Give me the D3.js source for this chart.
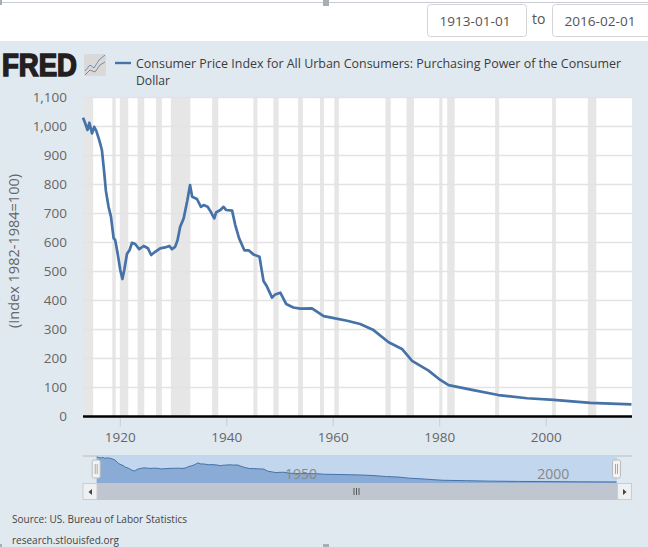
<!DOCTYPE html>
<html>
<head>
<meta charset="utf-8">
<script src="https://cdn.jsdelivr.net/npm/d3@7"></script>
<style>
    html, body { margin: 0; padding: 0; background: #fff; overflow: hidden; }
    text { font-family: "Open Sans", "Noto Sans", sans-serif; }
    .y-axis text, .x-axis text { fill: #666; font-size: 13.5px; }
</style>
</head>
<body>
<div id="chart"></div>
<script>
// purchasing power of the dollar
const years = [1913.1, 1913.5, 1913.95, 1914.3, 1914.8, 1915.2, 1915.6, 1916.15, 1916.65, 1917.1, 1917.4, 1917.9, 1918.35, 1918.85, 1919.15, 1919.6,
    1920.1, 1920.5, 1920.85, 1921.35, 1921.85, 1922.3, 1922.9, 1923.65, 1924.5, 1925.3, 1925.9, 1926.65, 1927.6, 1928.5, 1929.3, 1929.8,
    1930.4, 1930.85, 1931.35, 1932, 1932.7, 1933.2, 1933.6, 1934.5, 1935.25, 1935.75, 1936.5, 1937.1, 1937.75, 1938.1, 1938.9, 1939.5,
    1940, 1941.1, 1941.7, 1942.4, 1943.4, 1944.2, 1945.1, 1946.25, 1946.5, 1947, 1947.65, 1948.6, 1949.2, 1950.15, 1951.25, 1952.6,
    1953.9, 1956.1, 1958.3, 1959.5, 1962.7, 1965.15, 1967.65, 1970.5, 1973, 1974.9, 1978, 1980.2, 1981.75, 1986.4, 1991.1, 1996.5,
    2001.5, 2008.4, 2016.1];
const power = [1030, 1012, 988, 1013, 976, 999, 985, 953, 919, 838, 778, 723, 689, 615, 608, 563,
    505, 474, 505, 560, 574, 599, 595, 577, 588, 580, 557, 568, 580, 583, 588, 577,
    585, 608, 654, 683, 746, 798, 758, 750, 723, 729, 723, 706, 683, 704, 712, 723,
    712, 710, 660, 615, 573, 573, 559, 551, 522, 467, 448, 410, 421, 427, 388, 376,
    372, 373, 346, 342, 330, 319, 298, 256, 233, 192, 158, 126, 108, 91, 74, 63,
    57, 47, 42];

const recessionStart = [1913.0, 1918.6, 1920.0, 1923.35, 1926.8, 1929.6, 1937.35, 1945.1, 1948.85, 1953.5, 1957.6, 1960.3, 1969.9, 1973.85, 1980.0, 1981.5, 1990.5, 2001.2, 2007.9];
const recessionEnd = [1915.0, 1919.25, 1921.6, 1924.6, 1927.9, 1933.25, 1938.5, 1945.85, 1949.85, 1954.4, 1958.35, 1961.15, 1970.9, 1975.25, 1980.6, 1982.9, 1991.25, 2001.9, 2009.5];

const yTicks = [0, 100, 200, 300, 400, 500, 600, 700, 800, 900, 1000, 1100];
const xTicks = [1920, 1940, 1960, 1980, 2000];
const navTicks = [1950, 2000];

const titleLines = ["Consumer Price Index for All Urban Consumers: Purchasing Power of the Consumer", "Dollar"];
const dateFrom = "1913-01-01";
const dateTo = "2016-02-01";

const width = 648, height = 547;
const lineColor = "#4572a7";

const svg = d3.select("#chart").append("svg")
    .attr("width", width)
    .attr("height", height)
    .style("display", "block");

// page background and the white strip with the date inputs
svg.append("rect").attr("width", width).attr("height", height).attr("fill", "#e1e9f0");
svg.append("rect").attr("width", width).attr("height", 41).attr("fill", "#fff");

// resize handle bits from the screenshot
svg.append("line").attr("x1", 0).attr("x2", width).attr("y1", 2.5).attr("y2", 2.5).attr("stroke", "#c8ccd4");
svg.append("rect").attr("x", 323).attr("y", 0).attr("width", 6).attr("height", 6).attr("fill", "#a9adb4");
svg.append("rect").attr("x", 0).attr("y", 0).attr("width", 2).attr("height", 5).attr("fill", "#a9adb4");
svg.append("rect").attr("x", 323).attr("y", 544).attr("width", 6).attr("height", 3).attr("fill", "#a9adb4");
svg.append("rect").attr("x", 0).attr("y", 544).attr("width", 2).attr("height", 3).attr("fill", "#a9adb4");

function dateBox(x, w, label) {
    svg.append("rect")
        .attr("x", x).attr("y", 4.5).attr("width", w).attr("height", 32).attr("rx", 3)
        .attr("fill", "#fff").attr("stroke", "#d4d4d4");
    svg.append("text")
        .attr("x", x + 12).attr("y", 26)
        .attr("font-size", 13).attr("fill", "#555")
        .attr("textLength", 71).attr("lengthAdjust", "spacingAndGlyphs")
        .text(label);
}
dateBox(427.5, 99, dateFrom);
dateBox(552.5, 110, dateTo);
svg.append("text").attr("x", 532).attr("y", 24).attr("font-size", 14).attr("fill", "#555").text("to");

// logo
svg.append("text")
    .attr("x", 2).attr("y", 75.5)
    .attr("font-size", 31).attr("font-weight", 700).attr("fill", "#231f20")
    .style("font-family", "'Liberation Sans', Arial, sans-serif")
    .attr("stroke", "#231f20").attr("stroke-width", 1.6)
    .attr("textLength", 75).attr("lengthAdjust", "spacingAndGlyphs")
    .text("FRED");
svg.append("rect").attr("x", 84).attr("y", 54).attr("width", 22).attr("height", 22).attr("rx", 2).attr("fill", "#d9d9d9");
svg.append("path").attr("d", "M85 71 L90 65 L94 68 L99 60 L105 55").attr("fill", "none").attr("stroke", "#6d8fbd").attr("stroke-width", 1);
svg.append("path").attr("d", "M85 75 L90 70 L95 72 L100 65 L105 62").attr("fill", "none").attr("stroke", "#888").attr("stroke-width", 1);

// legend
svg.append("line").attr("x1", 115).attr("x2", 131).attr("y1", 63).attr("y2", 63).attr("stroke", lineColor).attr("stroke-width", 2.4);
svg.selectAll(".title-line")
    .data(titleLines)
    .enter()
    .append("text")
    .attr("class", "title-line")
    .attr("x", 136)
    .attr("y", (d, i) => 67.5 + i * 17)
    .attr("font-size", 12.5).attr("fill", "#3c3c3c")
    .attr("textLength", (d, i) => i === 0 ? 485 : 34)
    .attr("lengthAdjust", "spacingAndGlyphs")
    .text(d => d);

// main plot
const margin = { top: 97.5, right: 16, bottom: 130.5, left: 83 };
const plotW = width - margin.left - margin.right;
const plotH = height - margin.top - margin.bottom;

const x = d3.scaleLinear().domain([1913.1, 2016.2]).range([0, plotW]);
const y = d3.scaleLinear().domain([0, 1100]).range([plotH, 0]);

const g = svg.append("g").attr("transform", "translate(" + margin.left + "," + margin.top + ")");
g.append("rect").attr("width", plotW).attr("height", plotH).attr("fill", "#fff");

g.append("clipPath").attr("id", "plot-clip")
    .append("rect").attr("width", plotW).attr("height", plotH);

g.selectAll(".recession")
    .data(recessionStart)
    .enter()
    .append("rect")
    .attr("class", "recession")
    .attr("clip-path", "url(#plot-clip)")
    .attr("x", d => x(d))
    .attr("y", 0)
    .attr("width", (d, i) => x(recessionEnd[i]) - x(d))
    .attr("height", plotH)
    .attr("fill", "#e6e6e6");

const yAxis = d3.axisLeft(y).tickValues(yTicks).tickFormat(d3.format(",")).tickSize(0).tickPadding(16);
const yG = g.append("g").attr("class", "y-axis").call(yAxis);
yG.select(".domain").remove();

g.selectAll(".grid")
    .data(yTicks.filter(d => d > 0))
    .enter()
    .append("line")
    .attr("class", "grid")
    .attr("x1", 0).attr("x2", plotW)
    .attr("y1", d => y(d)).attr("y2", d => y(d))
    .attr("stroke", "#e3e3e3").attr("stroke-width", 1.5);

const xAxis = d3.axisBottom(x).tickValues(xTicks).tickFormat(d3.format("d")).tickSize(10).tickPadding(6);
const xG = g.append("g").attr("class", "x-axis").attr("transform", "translate(0," + plotH + ")").call(xAxis);
xG.select(".domain").remove();
xG.selectAll("line").attr("stroke", "#c0d0e0");

g.append("line").attr("x1", 0).attr("x2", plotW).attr("y1", plotH).attr("y2", plotH).attr("stroke", "#000").attr("stroke-width", 2.5);

const line = d3.line().x((d, i) => x(years[i])).y(d => y(d));
g.append("path")
    .datum(power)
    .attr("d", line)
    .attr("fill", "none")
    .attr("stroke", lineColor)
    .attr("stroke-width", 2.7)
    .attr("stroke-linejoin", "round");

svg.append("text")
    .attr("transform", "translate(19,251) rotate(-90)")
    .attr("text-anchor", "middle")
    .attr("font-size", 14.5).attr("fill", "#666")
    .text("(Index 1982-1984=100)");

// navigator
const navTop = 456, navBottom = 483;
const navX = d3.scaleLinear().domain([1913.1, 2016.2]).range([96.7, 617]);
const navY = d3.scaleLinear().domain([0, 1030]).range([navBottom, navTop + 1]);

svg.append("line").attr("x1", 83).attr("x2", 632).attr("y1", navTop).attr("y2", navTop).attr("stroke", "#b8bcc2");
svg.append("rect")
    .attr("x", navX.range()[0]).attr("y", navTop)
    .attr("width", navX.range()[1] - navX.range()[0]).attr("height", navBottom - navTop)
    .attr("fill", "#c2d6ee");

const navArea = d3.area().x((d, i) => navX(years[i])).y0(navBottom).y1(d => navY(d));
const navLine = d3.line().x((d, i) => navX(years[i])).y(d => navY(d));
svg.append("path").datum(power).attr("d", navArea).attr("fill", "#8aabd6");
svg.append("path").datum(power).attr("d", navLine).attr("fill", "none").attr("stroke", lineColor).attr("stroke-width", 1);

svg.selectAll(".nav-label")
    .data(navTicks)
    .enter()
    .append("text")
    .attr("class", "nav-label")
    .attr("x", d => navX(d) + 18)
    .attr("y", 479)
    .attr("text-anchor", "middle")
    .attr("font-size", 14).attr("fill", "#888")
    .text(d => d);

navX.range().forEach(function (hx) {
    svg.append("rect").attr("x", hx - 4.5).attr("y", 460).attr("width", 8).attr("height", 18).attr("rx", 1.5)
        .attr("fill", "#f2f2f2").attr("stroke", "#bbb");
    svg.append("line").attr("x1", hx - 1.5).attr("x2", hx - 1.5).attr("y1", 464).attr("y2", 474).attr("stroke", "#aaa");
    svg.append("line").attr("x1", hx + 0.5).attr("x2", hx + 0.5).attr("y1", 464).attr("y2", 474).attr("stroke", "#aaa");
});

// scrollbar
svg.append("rect").attr("x", 83).attr("y", 483).attr("width", 549).attr("height", 17).attr("fill", "#bfc6d0");
[[83, "M92 489 L92 495 L88.5 492 Z"], [617.5, "M623 489 L623 495 L626.5 492 Z"]].forEach(function (b) {
    svg.append("rect").attr("x", b[0]).attr("y", 483.5).attr("width", 14).attr("height", 16).attr("fill", "#eef0f2").attr("stroke", "#ccc");
    svg.append("path").attr("d", b[1]).attr("fill", "#444");
});
[354, 356.5, 359].forEach(function (sx) {
    svg.append("line").attr("x1", sx).attr("x2", sx).attr("y1", 488).attr("y2", 495).attr("stroke", "#555");
});

// source
svg.append("text").attr("x", 12).attr("y", 523).attr("font-size", 11.5).attr("fill", "#444")
    .attr("textLength", 175).attr("lengthAdjust", "spacingAndGlyphs")
    .text("Source: US. Bureau of Labor Statistics");
svg.append("text").attr("x", 12).attr("y", 544).attr("font-size", 11.5).attr("fill", "#444")
    .attr("textLength", 107).attr("lengthAdjust", "spacingAndGlyphs")
    .text("research.stlouisfed.org");
</script>
</body>
</html>
